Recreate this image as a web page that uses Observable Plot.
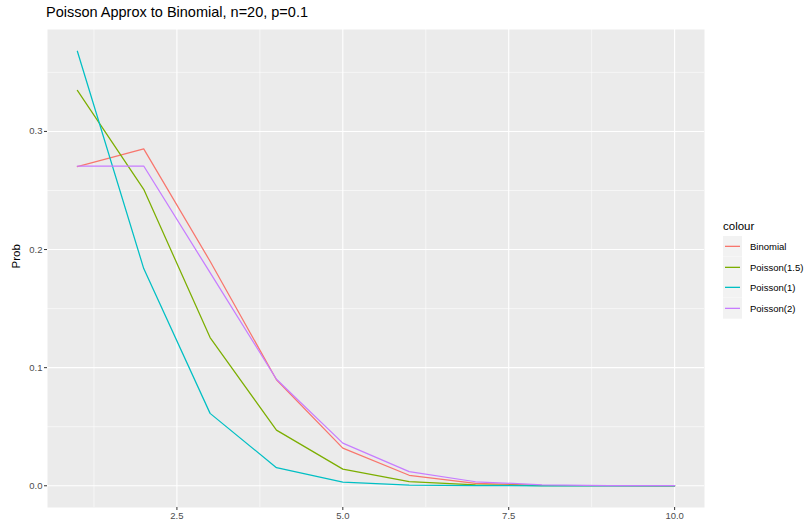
<!DOCTYPE html>
<html>
<head>
<meta charset="utf-8">
<script src="https://cdn.jsdelivr.net/npm/d3@7"></script>
<script src="https://cdn.jsdelivr.net/npm/@observablehq/plot@0.6"></script>
<style>
  body { margin: 0; background: #fff; font-family: "Liberation Sans", Arial, sans-serif; }
  #wrap { position: relative; width: 811px; height: 523px; overflow: hidden; }
  #title { position: absolute; left: 46px; top: 4px; font-size: 14.5px; color: #000; white-space: nowrap; }
  #chart { position: absolute; left: 0; top: 24px; }
  #legend { position: absolute; left: 723px; top: 216px; }
  #legend .lt { font-size: 11.5px; color: #000; height: 20px; line-height: 20px; }
  #legend .row { display: flex; align-items: center; height: 20.7px; }
  #legend svg { display: block; }
  #legend .lab { font-size: 9.5px; color: #000; margin-left: 8px; }
</style>
</head>
<body>
<div id="wrap">
  <div id="title">Poisson Approx to Binomial, n=20, p=0.1</div>
  <div id="chart"></div>
  <div id="legend"></div>
</div>
<script>
const xs = [1, 2, 3, 4, 5, 6, 7, 8, 9, 10];
const binomial   = [0.2702, 0.2852, 0.1901, 0.0898, 0.0319, 0.0089, 0.0020, 0.00036, 0.00005, 0.000006];
const poisson15  = [0.3347, 0.2510, 0.1255, 0.0471, 0.0141, 0.0035, 0.00076, 0.00014, 0.00002, 0.000003];
const poisson1   = [0.3679, 0.1839, 0.0613, 0.0153, 0.0031, 0.0005, 0.00007, 0.00001, 0.000001, 0.0000001];
const poisson2   = [0.2707, 0.2707, 0.1804, 0.0902, 0.0361, 0.0120, 0.0034, 0.00086, 0.00019, 0.000038];
const seriesNames = ["Binomial", "Poisson(1.5)", "Poisson(1)", "Poisson(2)"];
const seriesValues = [binomial, poisson15, poisson1, poisson2];
const colors = ["#F8766D", "#7CAE00", "#00BFC4", "#C77CFF"];
const xTicks = [2.5, 5.0, 7.5, 10.0];
const xMinor = [1.25, 3.75, 6.25, 8.75];
const yTicks = [0.0, 0.1, 0.2, 0.3];
const yMinor = [0.05, 0.15, 0.25, 0.35];

const data = [];
seriesNames.forEach((name, i) => {
  xs.forEach((x, j) => data.push({ x, prob: seriesValues[i][j], series: name }));
});

const ymax = d3.max(data, d => d.prob);
const yPad = ymax * 0.05;
const xPad = (10 - 1) * 0.05;

const plot = Plot.plot({
  width: 811,
  height: 499,
  marginLeft: 47,
  marginRight: 107,
  marginTop: 5,
  marginBottom: 16,
  style: { fontFamily: "Liberation Sans, Arial, sans-serif", background: "transparent" },
  x: { domain: [1 - xPad, 10 + xPad] },
  y: { domain: [0 - yPad, ymax + yPad] },
  color: { domain: seriesNames, range: colors },
  marks: [
    Plot.frame({ fill: "#EBEBEB", stroke: null }),
    Plot.ruleX(xMinor, { stroke: "#fff", strokeWidth: 0.55 }),
    Plot.ruleY(yMinor, { stroke: "#fff", strokeWidth: 0.55 }),
    Plot.ruleX(xTicks, { stroke: "#fff", strokeWidth: 1.1 }),
    Plot.ruleY(yTicks, { stroke: "#fff", strokeWidth: 1.1 }),
    Plot.line(data, { x: "x", y: "prob", z: "series", stroke: "series", strokeWidth: 1.25 }),
    Plot.axisX({ ticks: xTicks, tickFormat: d3.format(".1f"), tickSize: 3, tickPadding: 2, fontSize: 9.5, color: "#4D4D4D", stroke: "#333", label: null }),
    Plot.axisY({ ticks: yTicks, tickFormat: d3.format(".1f"), tickSize: 3, tickPadding: 2, fontSize: 9.5, color: "#4D4D4D", stroke: "#333", label: null }),
    Plot.text(["Prob"], { frameAnchor: "left", dx: -31, rotate: -90, fontSize: 11.5, fill: "#000" })
  ]
});
document.getElementById("chart").appendChild(plot);

const legend = document.getElementById("legend");
const lt = document.createElement("div");
lt.className = "lt";
lt.textContent = "colour";
legend.appendChild(lt);
const ns = "http://www.w3.org/2000/svg";
seriesNames.forEach((name, i) => {
  const row = document.createElement("div");
  row.className = "row";
  const svg = document.createElementNS(ns, "svg");
  svg.setAttribute("width", "19");
  svg.setAttribute("height", "20.7");
  const bg = document.createElementNS(ns, "rect");
  bg.setAttribute("width", "19");
  bg.setAttribute("height", "20.7");
  bg.setAttribute("fill", "#F2F2F2");
  svg.appendChild(bg);
  const ln = document.createElementNS(ns, "line");
  ln.setAttribute("x1", "2");
  ln.setAttribute("x2", "17");
  ln.setAttribute("y1", "10.35");
  ln.setAttribute("y2", "10.35");
  ln.setAttribute("stroke", colors[i]);
  ln.setAttribute("stroke-width", "1.3");
  svg.appendChild(ln);
  const lab = document.createElement("div");
  lab.className = "lab";
  lab.textContent = name;
  row.appendChild(svg);
  row.appendChild(lab);
  legend.appendChild(row);
});
</script>
</body>
</html>
